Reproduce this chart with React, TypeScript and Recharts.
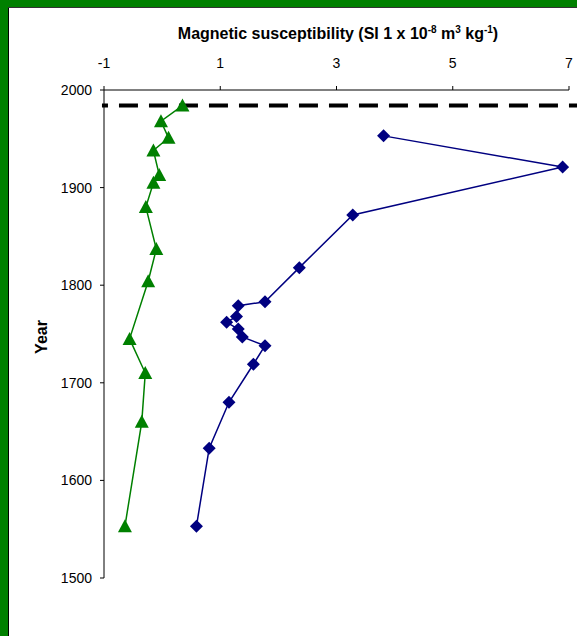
import { ScatterChart, Scatter, XAxis, YAxis, ReferenceLine } from 'recharts';

// susceptibility profiles (year vs value)
const greenYears = [1984, 1968, 1951, 1938, 1913, 1905, 1880, 1837, 1804, 1745, 1710, 1660, 1553];
const greenValues = [0.35, -0.02, 0.11, -0.15, -0.05, -0.15, -0.28, -0.1, -0.24, -0.56, -0.29, -0.35, -0.64];

const blueYears = [1953, 1921, 1872, 1818, 1783, 1779, 1768, 1762, 1755, 1747, 1738, 1719, 1680, 1633, 1553];
const blueValues = [3.81, 6.89, 3.28, 2.36, 1.77, 1.31, 1.28, 1.11, 1.31, 1.38, 1.77, 1.57, 1.15, 0.81, 0.59];

const xTicks = [-1, 1, 3, 5, 7];
const yTicks = [1500, 1600, 1700, 1800, 1900, 2000];
const markerYear = 1984;

const greenData = greenYears.map((year, i) => ({ year, x: greenValues[i] }));
const blueData = blueYears.map((year, i) => ({ year, x: blueValues[i] }));

const FONT = '"Liberation Sans", Arial, sans-serif';
const GREEN = '#008000';
const NAVY = '#000080';

function Triangle(props: any) {
  const { cx, cy } = props;
  if (cx == null || cy == null) return null;
  return (
    <polygon
      points={`${cx},${cy - 7} ${cx - 7},${cy + 6} ${cx + 7},${cy + 6}`}
      fill={GREEN}
    />
  );
}

function Diamond(props: any) {
  const { cx, cy } = props;
  if (cx == null || cy == null) return null;
  return (
    <polygon
      points={`${cx},${cy - 6.5} ${cx + 6.5},${cy} ${cx},${cy + 6.5} ${cx - 6.5},${cy}`}
      fill={NAVY}
    />
  );
}

export default function App() {
  return (
    <div style={{ position: 'fixed', left: 0, top: 0, width: 577, height: 636, background: '#fff', overflow: 'hidden' }}>
      {/* frame */}
      <div style={{ position: 'absolute', left: 0, top: 0, width: 8, height: 636, background: GREEN }} />
      <div style={{ position: 'absolute', left: 0, top: 0, width: 577, height: 7, background: GREEN }} />
      <div style={{ position: 'absolute', left: 8, top: 7, width: 1, height: 629, background: '#000' }} />
      <div style={{ position: 'absolute', left: 8, top: 7, width: 569, height: 1, background: '#333' }} />

      <div style={{ position: 'absolute', left: 0, top: 0 }}>
        <ScatterChart width={577} height={636} margin={{ top: 30, right: 8, bottom: 58, left: 44 }}>
          <XAxis
            type="number"
            dataKey="x"
            orientation="top"
            height={60}
            domain={[-1, 7]}
            ticks={xTicks}
            interval={0}
            tickSize={4}
            tickMargin={18}
            stroke="#000"
            tick={{ fontSize: 14, fill: '#000', fontFamily: FONT }}
            allowDataOverflow
          />
          <YAxis
            type="number"
            dataKey="year"
            width={60}
            domain={[1500, 2000]}
            ticks={yTicks}
            interval={0}
            tickSize={4}
            tickMargin={8}
            stroke="#000"
            tick={{ fontSize: 14, fill: '#000', fontFamily: FONT }}
            allowDataOverflow
          />
          <ReferenceLine
            segment={[{ x: -1.035, y: markerYear }, { x: 7.2, y: markerYear }]}
            stroke="#000"
            strokeWidth={4}
            strokeDasharray="19 11"
            strokeDashoffset={13}
            ifOverflow="visible"
          />
          <Scatter
            data={greenData}
            line={{ stroke: GREEN, strokeWidth: 1.5 }}
            shape={<Triangle />}
            isAnimationActive={false}
          />
          <Scatter
            data={blueData}
            line={{ stroke: NAVY, strokeWidth: 1.5 }}
            shape={<Diamond />}
            isAnimationActive={false}
          />
        </ScatterChart>
      </div>

      <svg width={577} height={636} style={{ position: 'absolute', left: 0, top: 0, pointerEvents: 'none' }}>
        <text x={338} y={39} textAnchor="middle" fontFamily={FONT} fontWeight="bold" fontSize={16} fill="#000">
          Magnetic susceptibility (SI 1 x 10
          <tspan fontSize={10} dy={-6}>-8</tspan>
          <tspan dy={6}> m</tspan>
          <tspan fontSize={10} dy={-6}>3</tspan>
          <tspan dy={6}> kg</tspan>
          <tspan fontSize={10} dy={-6}>-1</tspan>
          <tspan dy={6}>)</tspan>
        </text>
        <text
          x={0}
          y={0}
          transform="translate(47 337) rotate(-90)"
          textAnchor="middle"
          fontFamily={FONT}
          fontWeight="bold"
          fontSize={16}
          fill="#000"
        >
          Year
        </text>
      </svg>
    </div>
  );
}
